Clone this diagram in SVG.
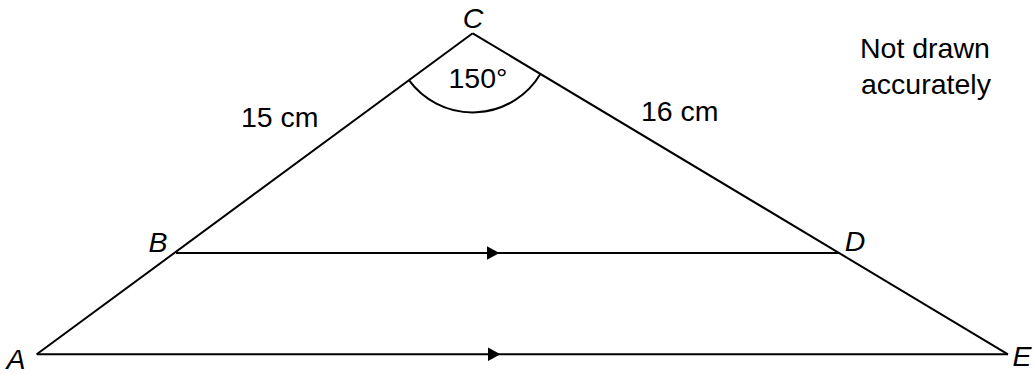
<svg xmlns="http://www.w3.org/2000/svg" width="1035" height="374" viewBox="0 0 1035 374">
  <style>
    .ln { stroke: #000; stroke-width: 2; fill: none; }
    .t { font-family: "Liberation Sans", Arial, sans-serif; font-size: 28.5px; fill: #000; }
    .lbl { font-style: italic; }
  </style>
  <defs>
    <marker id="arr" viewBox="0 0 13 14" refX="6.5" refY="7" markerWidth="13" markerHeight="14" markerUnits="userSpaceOnUse" orient="auto">
      <path d="M0,0 L13,7 L0,14 Z" fill="#000"/>
    </marker>
  </defs>
  <rect width="1035" height="374" fill="#fff"/>
  <g id="connectors">
    <path id="CA" class="ln" d="M472.7,33.3 L36.7,354.3"/>
    <path id="CE" class="ln" d="M472.7,33.3 L1008,354.3"/>
    <path id="BD" class="ln" d="M176,253 L493,253 L839.3,253" marker-mid="url(#arr)"/>
    <path id="AE" class="ln" d="M36.7,354.3 L494,354.3 L1008,354.3" marker-mid="url(#arr)"/>
    <path id="angle" class="ln" d="M408.9,80.2 A79,79 0 0 0 540.4,73.9"/>
  </g>
  <g id="node-C"><text class="t lbl" x="473" y="27.5" text-anchor="middle">C</text></g>
  <g id="node-A"><text class="t lbl" x="16" y="369" text-anchor="middle">A</text></g>
  <g id="node-B"><text class="t lbl" x="158" y="252" text-anchor="middle">B</text></g>
  <g id="node-D"><text class="t lbl" x="855" y="250.5" text-anchor="middle">D</text></g>
  <g id="node-E"><text class="t lbl" x="1022" y="366" text-anchor="middle">E</text></g>
  <g id="labels">
    <text class="t" x="478" y="87.5" text-anchor="middle">150°</text>
    <text class="t" x="241" y="127">15 cm</text>
    <text class="t" x="641" y="120.5">16 cm</text>
    <text class="t" x="860" y="58">Not drawn</text>
    <text class="t" x="861" y="93.5">accurately</text>
  </g>
</svg>
